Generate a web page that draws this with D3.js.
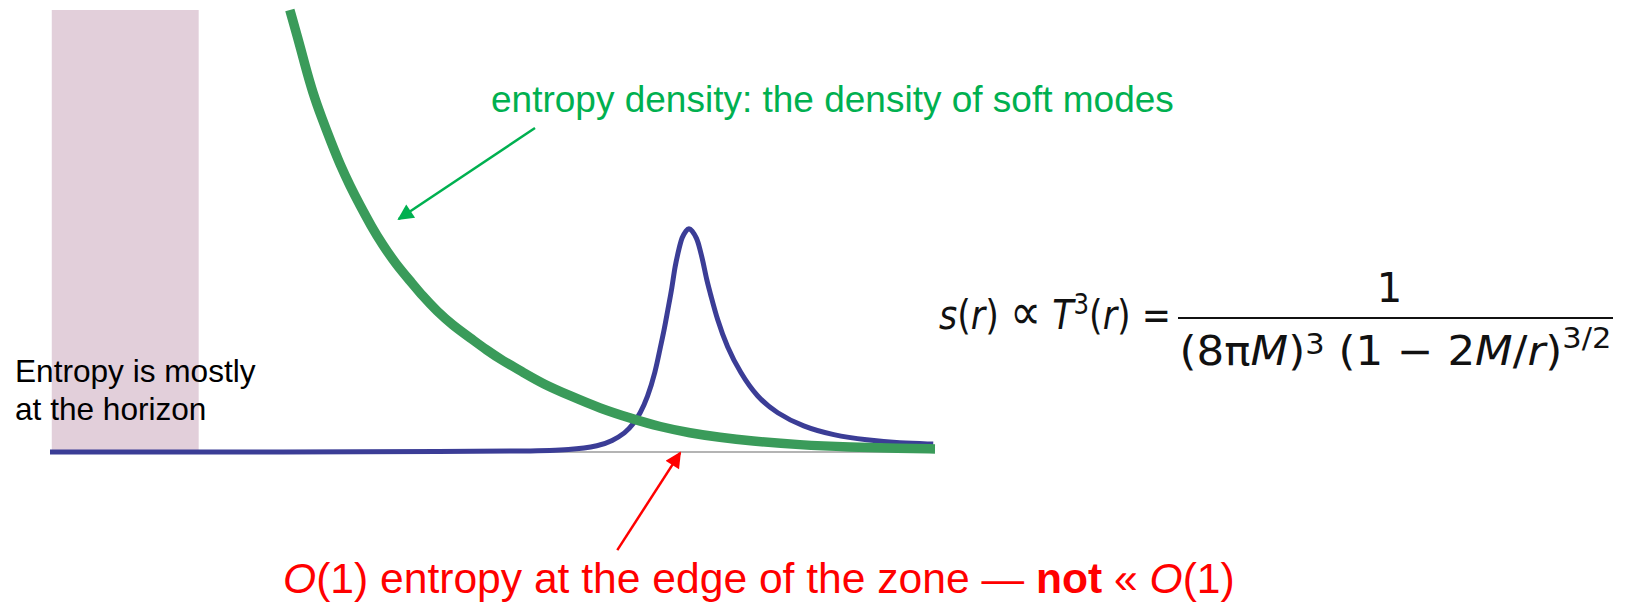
<!DOCTYPE html>
<html>
<head>
<meta charset="utf-8">
<script src="https://cdn.jsdelivr.net/npm/d3@7"></script>
<style>
  body { margin: 0; background: #fff; }
  svg { display: block; }
</style>
</head>
<body>
<div id="chart"></div>
<script>
const WIDTH = 1625
const HEIGHT = 604
const PLOT = { LEFT: 50, RIGHT: 935, TOP: 10, BOTTOM: 452 }

// values, in plot units (x: 0..100 along r, y: 0..100 up)
const horizonZone = [0.2, 16.8]

const entropyR = [27.1, 28.0, 28.8, 29.7, 30.7, 31.8, 32.8, 33.9, 35.0, 36.3, 37.6, 39.1, 40.7,
  42.1, 43.7, 45.5, 47.5, 49.3, 51.2, 53.4, 55.7, 58.8, 62.1, 65.8, 68.9, 72.3, 75.7, 79.1,
  84.7, 90.4, 96.0, 100]
const entropyS = [100, 93.7, 87.6, 81.2, 75.6, 69.9, 64.9, 60.2, 55.9, 51.1, 46.8, 42.5, 38.7,
  35.3, 31.9, 28.7, 25.8, 23.1, 20.6, 18.1, 15.4, 12.7, 9.9, 7.5, 5.7, 4.3, 3.3, 2.5,
  1.6, 1.1, 0.8, 0.7]

const modesR = [0, 28.2, 45.2, 54.2, 58.8, 62.1, 63.5, 65.0, 65.9, 66.7, 67.5, 68.4, 68.9, 69.4,
  69.8, 70.3, 70.6, 71.1, 71.4, 71.9, 72.2, 72.5, 73.1, 73.4, 73.8, 74.2, 74.6, 75.4, 76.5,
  78.0, 79.9, 82.1, 85.1, 88.5, 92.3, 96.0, 99.8]
const modesS = [0, 0, 0.1, 0.2, 0.45, 1.4, 2.5, 4.3, 6.3, 8.8, 12.2, 18.1, 23.1, 27.6, 32.1, 37.3,
  41.9, 46.2, 48.6, 50.2, 50.7, 50.2, 48.4, 46.2, 43.0, 38.9, 36.0, 29.9, 23.8, 17.9, 12.4,
  8.8, 5.7, 3.8, 2.7, 2.0, 1.8]

// annotation anchors in plot units
const greenArrow = [[54.8, 73.3], [39.4, 52.7]]
const redArrow = [[64.1, -22.2], [71.2, -0.2]]

const svg = d3.select("#chart")
              .append("svg")
              .attr("width", WIDTH)
              .attr("height", HEIGHT)

const x = d3.scaleLinear().domain([0, 100]).range([PLOT.LEFT, PLOT.RIGHT])
const y = d3.scaleLinear().domain([0, 100]).range([PLOT.BOTTOM, PLOT.TOP])

const defs = svg.append("defs")
function arrowHead(id, color) {
  defs.append("marker")
      .attr("id", id)
      .attr("viewBox", "0 0 10 10")
      .attr("refX", 9)
      .attr("refY", 5)
      .attr("markerUnits", "userSpaceOnUse")
      .attr("markerWidth", 20)
      .attr("markerHeight", 16)
      .attr("orient", "auto")
      .append("path")
      .attr("d", "M0,0 L10,5 L0,10 z")
      .attr("fill", color)
}
arrowHead("head-green", "#00b050")
arrowHead("head-red", "#ff0000")

// horizon zone
svg.append("rect")
   .attr("x", x(horizonZone[0]))
   .attr("y", y(100))
   .attr("width", x(horizonZone[1]) - x(horizonZone[0]))
   .attr("height", y(0) - y(100))
   .attr("fill", "#e2cfda")

// r axis
svg.append("line")
   .attr("x1", x(0)).attr("x2", x(100))
   .attr("y1", y(0)).attr("y2", y(0))
   .attr("stroke", "#b4b4b4")
   .attr("stroke-width", 2)

const line = d3.line()
               .x(d => x(d[0]))
               .y(d => y(d[1]))
               .curve(d3.curveBasis)

svg.append("path")
   .datum(modesR.map((r, i) => [r, modesS[i]]))
   .attr("d", line)
   .attr("fill", "none")
   .attr("stroke", "#3b3d96")
   .attr("stroke-width", 5)

svg.append("path")
   .datum(entropyR.map((r, i) => [r, entropyS[i]]))
   .attr("d", line)
   .attr("fill", "none")
   .attr("stroke", "#3a9b5a")
   .attr("stroke-width", 9.5)

// arrows
svg.append("line")
   .attr("x1", x(greenArrow[0][0])).attr("y1", y(greenArrow[0][1]))
   .attr("x2", x(greenArrow[1][0])).attr("y2", y(greenArrow[1][1]))
   .attr("stroke", "#00b050")
   .attr("stroke-width", 2.5)
   .attr("marker-end", "url(#head-green)")

svg.append("line")
   .attr("x1", x(redArrow[0][0])).attr("y1", y(redArrow[0][1]))
   .attr("x2", x(redArrow[1][0])).attr("y2", y(redArrow[1][1]))
   .attr("stroke", "#ff0000")
   .attr("stroke-width", 2.5)
   .attr("marker-end", "url(#head-red)")

// labels
const sans = "'Liberation Sans', Arial, sans-serif"

svg.append("text")
   .attr("x", 491).attr("y", 112)
   .attr("font-family", sans)
   .attr("font-size", 37)
   .attr("fill", "#00b050")
   .text("entropy density: the density of soft modes")

const note = svg.append("text")
                .attr("font-family", sans)
                .attr("font-size", 31.6)
                .attr("fill", "#000")
note.append("tspan").attr("x", 15).attr("y", 382).text("Entropy is mostly")
note.append("tspan").attr("x", 15).attr("y", 420).text("at the horizon")

const bottom = svg.append("text")
                  .attr("x", 283).attr("y", 593)
                  .attr("font-family", sans)
                  .attr("font-size", 42.6)
                  .attr("fill", "#ff0000")
bottom.append("tspan").attr("font-style", "italic").text("O")
bottom.append("tspan").text("(1) entropy at the edge of the zone \u2014 ")
bottom.append("tspan").attr("font-weight", "bold").text("not")
bottom.append("tspan").text(" \u00ab ")
bottom.append("tspan").attr("font-style", "italic").text("O")
bottom.append("tspan").text("(1)")

// formula
const math = "'DejaVu Sans', sans-serif"
const MATH_SIZE = 40
const SUP_SIZE = 28

function piece(sel, txt, opts = {}) {
  const t = sel.append("tspan").text(txt)
  if (opts.italic) t.attr("font-style", "italic")
  if (opts.size) t.attr("font-size", opts.size)
  if (opts.dy) t.attr("dy", opts.dy)
  return t
}

function fitGroup(g, targetWidth) {
  const w = g.node().getBBox().width
  return w > 0 ? targetWidth / w : 1
}

const lhsG = svg.append("g")
const lhs = lhsG.append("text")
                .attr("font-family", math)
                .attr("font-size", MATH_SIZE)
                .attr("fill", "#111")
piece(lhs, "s", { italic: true })
piece(lhs, "(")
piece(lhs, "r", { italic: true })
piece(lhs, ") ")
piece(lhs, "\u221d", { size: 50 })
piece(lhs, " ")
piece(lhs, "T", { italic: true })
piece(lhs, "3", { size: SUP_SIZE, dy: -15 })
piece(lhs, "(", { dy: 15 })
piece(lhs, "r", { italic: true })
piece(lhs, ") =")
lhsG.attr("transform", `translate(939,329) scale(${fitGroup(lhsG, 232)},1)`)

const bar = { x1: 1178, x2: 1613, y: 318 }
svg.append("line")
   .attr("x1", bar.x1).attr("x2", bar.x2)
   .attr("y1", bar.y).attr("y2", bar.y)
   .attr("stroke", "#111")
   .attr("stroke-width", 2)

svg.append("text")
   .attr("x", (bar.x1 + bar.x2) / 2 - 6).attr("y", 302)
   .attr("text-anchor", "middle")
   .attr("font-family", math)
   .attr("font-size", MATH_SIZE)
   .attr("fill", "#111")
   .text("1")

const denG = svg.append("g")
const den = denG.append("text")
                .attr("text-anchor", "middle")
                .attr("font-family", math)
                .attr("font-size", MATH_SIZE)
                .attr("fill", "#111")
piece(den, "(8\u03c0")
piece(den, "M", { italic: true })
piece(den, ")")
piece(den, "3", { size: SUP_SIZE, dy: -11 })
piece(den, " (1 \u2212 2", { dy: 11 })
piece(den, "M", { italic: true })
piece(den, "/")
piece(den, "r", { italic: true })
piece(den, ")")
piece(den, "3/2", { size: SUP_SIZE, dy: -17 })
denG.attr("transform", `translate(${(bar.x1 + bar.x2) / 2},365) scale(${fitGroup(denG, 432)},1)`)
</script>
</body>
</html>
